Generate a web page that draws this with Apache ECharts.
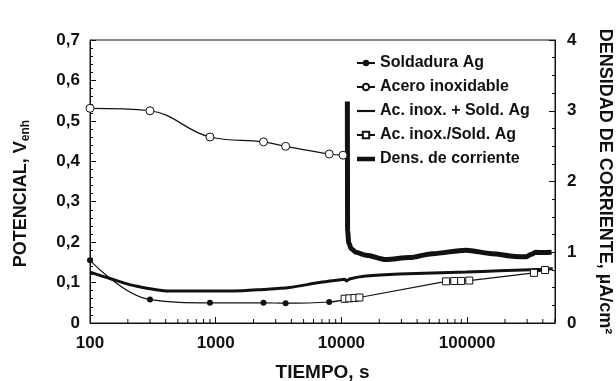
<!DOCTYPE html>
<html>
<head>
<meta charset="utf-8">
<script src="https://cdn.jsdelivr.net/npm/echarts@6/dist/echarts.min.js"></script>
<style>
  html, body { margin: 0; padding: 0; background: #fff; }
  #chart { width: 616px; height: 381px; }
</style>
</head>
<body>
<div id="chart"></div>
<script>
// tiempo (s) y potencial (V) / densidad de corriente (uA/cm2)
const soldT = [100, 300, 900, 2400, 3600, 8000, 10600]
const soldV = [0.155, 0.058, 0.050, 0.050, 0.049, 0.052, 0.058]

const inoxT = [100, 300, 900, 2400, 3600, 8000, 10300]
const inoxV = [0.531, 0.525, 0.460, 0.448, 0.437, 0.418, 0.415]

const mixT = [100, 144, 219, 430, 1370, 2400, 3860, 6700, 10000, 10600, 11000, 11600, 15700, 28800, 98000, 180000, 420000, 480000]
const mixV = [0.126, 0.110, 0.093, 0.079, 0.079, 0.083, 0.088, 0.100, 0.107, 0.108, 0.104, 0.109, 0.116, 0.121, 0.126, 0.129, 0.133, 0.134]

const unionT = [10600, 11550, 12700, 13900, 68000, 79000, 89600, 104000, 340000, 417000]
const unionV = [0.060, 0.061, 0.062, 0.063, 0.103, 0.104, 0.104, 0.105, 0.124, 0.131]

const densT = [11150, 11200, 11450, 12000, 13000, 15700, 22600, 34800, 53000, 98000, 158000, 240000, 292000, 325000, 350000, 400000, 470000]
const densI = [3.13, 1.30, 1.13, 1.05, 1.00, 0.958, 0.897, 0.925, 0.98, 1.03, 0.98, 0.94, 0.935, 0.97, 1.0, 0.995, 1.0]

const xTickLabels = [100, 1000, 10000, 100000]
const legendNames = ['Soldadura Ag', 'Acero inoxidable', 'Ac. inox. + Sold. Ag', 'Ac. inox./Sold. Ag', 'Dens. de corriente']

// marcas menores del eje logaritmico (2..9 de cada decada)
const minorTicks = []
xTickLabels.forEach(d => {
  for (let k = 2; k <= 9; k++) if (d * k <= 500000) minorTicks.push([d * k, 0])
})

const pair = (t, v) => t.map((x, i) => [x, v[i]])
const ink = '#111'
const font = "'Liberation Sans', Arial, sans-serif"

const chart = echarts.init(document.getElementById('chart'))

chart.setOption({
  backgroundColor: '#fff',
  animation: false,
  textStyle: { fontFamily: font, color: ink },
  grid: {
    left: 90, right: 61, top: 40, bottom: 58,
    outerBoundsMode: 'none',
    show: true, borderColor: ink, borderWidth: 1, backgroundColor: 'transparent'
  },
  legend: {
    orient: 'vertical',
    left: 351, top: 50,
    itemWidth: 18, itemHeight: 8, itemGap: 8,
    textStyle: { fontFamily: font, fontWeight: 'bold', fontSize: 16, color: ink },
    data: [
      legendNames[0],
      legendNames[1],
      { name: legendNames[2], icon: 'path://M0,0 L20,0 L20,2.4 L0,2.4 Z' },
      legendNames[3],
      { name: legendNames[4], icon: 'path://M0,0 L20,0 L20,5 L0,5 Z' }
    ]
  },
  xAxis: {
    type: 'log',
    min: 100, max: 500000,
    logBase: 10,
    name: 'TIEMPO, s',
    nameLocation: 'middle',
    nameGap: 40,
    nameTextStyle: { fontFamily: font, fontWeight: 'bold', fontSize: 19, color: ink },
    axisLine: { lineStyle: { color: ink, width: 1 } },
    axisTick: { inside: true, length: 6, lineStyle: { color: ink } },
    axisLabel: {
      showMaxLabel: false, margin: 12,
      fontFamily: font, fontWeight: 'bold', fontSize: 17, color: ink,
      formatter: v => xTickLabels.includes(Math.round(v)) ? String(Math.round(v)) : ''
    },
    splitLine: { show: false }
  },
  yAxis: [{
    type: 'value',
    min: 0, max: 0.7, interval: 0.1,
    name: 'POTENCIAL, V{sub|enh}',
    nameLocation: 'middle',
    nameGap: 58,
    nameTextStyle: {
      fontFamily: font, fontWeight: 'bold', fontSize: 18, color: ink,
      padding: [0, 24, 0, 0],
      rich: { sub: { fontFamily: font, fontWeight: 'bold', fontSize: 12, color: ink, padding: [10, 0, 0, 0] } }
    },
    axisLine: { show: true, lineStyle: { color: ink } },
    axisTick: { inside: true, length: 6, lineStyle: { color: ink } },
    minorTick: { show: true, splitNumber: 5, length: 3, lineStyle: { color: ink } },
    axisLabel: {
      margin: 10, fontFamily: font, fontWeight: 'bold', fontSize: 17, color: ink,
      formatter: v => v === 0 ? '0' : v.toFixed(1).replace('.', ',')
    },
    splitLine: { show: false }
  }, {
    type: 'value',
    position: 'right',
    min: 0, max: 4, interval: 1,
    name: 'DENSIDAD DE CORRIENTE, µA/cm²',
    nameLocation: 'middle',
    nameGap: 41,
    nameRotate: -90,
    nameTextStyle: { fontFamily: font, fontWeight: 'bold', fontSize: 18, color: ink },
    axisLine: { show: true, lineStyle: { color: ink } },
    axisTick: { inside: true, length: 6, lineStyle: { color: ink } },
    minorTick: { show: true, splitNumber: 4, length: 3, lineStyle: { color: ink } },
    axisLabel: { margin: 12, fontFamily: font, fontWeight: 'bold', fontSize: 17, color: ink },
    splitLine: { show: false }
  }],
  series: [{
    name: 'Soldadura Ag',
    type: 'line',
    data: pair(soldT, soldV),
    smooth: 0.4,
    symbol: 'circle', symbolSize: 6,
    itemStyle: { color: ink },
    lineStyle: { color: ink, width: 1.2 }
  }, {
    name: 'Acero inoxidable',
    type: 'line',
    data: pair(inoxT, inoxV),
    smooth: 0.4,
    symbol: 'circle', symbolSize: 8,
    itemStyle: { color: '#fff', borderColor: ink, borderWidth: 1 },
    lineStyle: { color: ink, width: 1.2 }
  }, {
    name: 'Ac. inox. + Sold. Ag',
    type: 'line',
    data: pair(mixT, mixV),
    smooth: 0.3,
    showSymbol: false, symbol: 'none',
    itemStyle: { color: ink },
    lineStyle: { color: ink, width: 3 }
  }, {
    name: 'Ac. inox./Sold. Ag',
    type: 'line',
    data: pair(unionT, unionV),
    symbol: 'rect', symbolSize: 7,
    itemStyle: { color: '#fff', borderColor: ink, borderWidth: 1 },
    lineStyle: { color: ink, width: 1.2 }
  }, {
    name: 'Dens. de corriente',
    type: 'line',
    yAxisIndex: 1,
    data: pair(densT, densI),
    smooth: 0.3, smoothMonotone: 'x',
    showSymbol: false, symbol: 'none',
    itemStyle: { color: ink },
    lineStyle: { color: ink, width: 5 }
  }, {
    type: 'custom',
    silent: true,
    data: minorTicks,
    renderItem: (params, api) => {
      const p = api.coord([api.value(0), api.value(1)])
      return {
        type: 'line',
        shape: { x1: p[0], y1: p[1], x2: p[0], y2: p[1] - 4 },
        style: { stroke: ink, lineWidth: 1 }
      }
    }
  }]
})
</script>
</body>
</html>
